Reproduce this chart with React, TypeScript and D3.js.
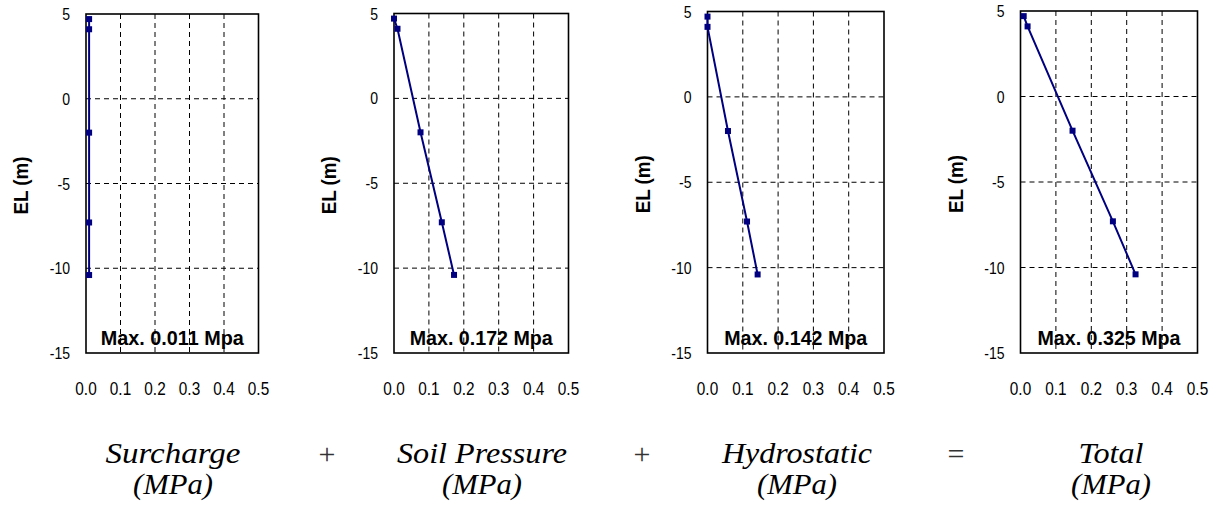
import React from "react";
import * as d3 from "d3";

const elevations = [4.7, 4.1, -2.0, -7.3, -10.4];
const surcharge = [0.009, 0.009, 0.009, 0.009, 0.009];
const soilPressure = [0, 0.01, 0.076, 0.137, 0.172];
const hydrostatic = [0, 0, 0.058, 0.112, 0.142];
const total = [0.009, 0.02, 0.147, 0.261, 0.325];

const seriesValues = [surcharge, soilPressure, hydrostatic, total];
const maxLabels = ["Max. 0.011 Mpa", "Max. 0.172 Mpa", "Max. 0.142 Mpa", "Max. 0.325 Mpa"];
const titles = ["Surcharge", "Soil Pressure", "Hydrostatic", "Total"];
const units = ["(MPa)", "(MPa)", "(MPa)", "(MPa)"];
const operators = ["+", "+", "="];
const xTicks = [0, 0.1, 0.2, 0.3, 0.4, 0.5];
const yTicks = [5, 0, -5, -10, -15];
const yTitle = "EL (m)";

// layout
const frames = [
  { left: 86, right: 258.5, top: 14, bottom: 353 },
  { left: 394, right: 568.5, top: 13.5, bottom: 353 },
  { left: 707.5, right: 884, top: 11.5, bottom: 353 },
  { left: 1020.5, right: 1197.5, top: 11, bottom: 353 },
];
const titleCenters = [173, 482, 797, 1111];
const titleWidths = [135, 170, 150, 65];
const unitWidth = 80;
const operatorX = [327, 642, 956];

const NAVY = "#000080";
const SANS = "'Liberation Sans', Arimo, Arial, Helvetica, sans-serif";
const SERIF = "'Times New Roman', Times, 'Liberation Serif', Tinos, 'Nimbus Roman', 'Noto Serif', serif";

function Panel({ i }: { i: number }) {
  const f = frames[i];
  const x = d3.scaleLinear().domain([0, 0.5]).range([f.left, f.right]);
  const y = d3.scaleLinear().domain([-15, 5]).range([f.bottom, f.top]);
  const vals = seriesValues[i];
  const pts = elevations.map((e, k) => [vals[k], e] as [number, number]);
  const line = d3
    .line<[number, number]>()
    .x((d) => x(d[0]))
    .y((d) => y(d[1]));
  const cx = (f.left + f.right) / 2;
  const cy = (f.top + f.bottom) / 2;
  return (
    <g>
      <text
        x={cx}
        y={f.bottom - 8}
        textAnchor="middle"
        fontFamily={SANS}
        fontWeight="bold"
        fontSize={21}
        textLength={143}
        lengthAdjust="spacingAndGlyphs"
        fill="#000"
      >
        {maxLabels[i]}
      </text>
      {xTicks.slice(1, -1).map((t) => (
        <line
          key={"vx" + t}
          x1={x(t)}
          x2={x(t)}
          y1={f.top}
          y2={f.bottom}
          stroke="#000"
          strokeWidth={1}
          strokeDasharray="5,4"
        />
      ))}
      {yTicks.slice(1, -1).map((t) => (
        <line
          key={"hy" + t}
          x1={f.left}
          x2={f.right}
          y1={y(t)}
          y2={y(t)}
          stroke="#000"
          strokeWidth={1}
          strokeDasharray="5,4"
        />
      ))}
      <rect
        x={f.left}
        y={f.top}
        width={f.right - f.left}
        height={f.bottom - f.top}
        fill="none"
        stroke="#000"
        strokeWidth={1.6}
      />
      <path d={line(pts) || ""} fill="none" stroke={NAVY} strokeWidth={2} />
      {pts.map((p, k) => (
        <rect
          key={k}
          x={x(p[0]) - 3}
          y={y(p[1]) - 3}
          width={6}
          height={6}
          fill={NAVY}
        />
      ))}
      {yTicks.map((t) => (
        <text
          key={"yl" + t}
          transform={`translate(${f.left - 16},${y(t) + 6}) scale(0.85,1)`}
          textAnchor="end"
          fontFamily={SANS}
          fontSize={16.5}
          fill="#000"
        >
          {String(t)}
        </text>
      ))}
      {xTicks.map((t) => (
        <text
          key={"xl" + t}
          transform={`translate(${x(t)},${395}) scale(0.83,1)`}
          textAnchor="middle"
          fontFamily={SANS}
          fontSize={18.5}
          fill="#000"
        >
          {d3.format(".1f")(t)}
        </text>
      ))}
      <text
        transform={`translate(${f.left - 58},${cy + 2}) rotate(-90)`}
        textAnchor="middle"
        fontFamily={SANS}
        fontWeight="bold"
        fontSize={20}
        textLength={58}
        lengthAdjust="spacingAndGlyphs"
        fill="#000"
      >
        {yTitle}
      </text>
    </g>
  );
}

export default function App() {
  return (
    <svg
      width={1221}
      height={513}
      style={{ position: "absolute", left: 0, top: 0, background: "#fff" }}
    >
      <rect x={0} y={0} width={1221} height={513} fill="#fff" />
      {frames.map((_, i) => (
        <Panel key={i} i={i} />
      ))}
      {titles.map((t, i) => (
        <g key={t}>
          <text
            x={titleCenters[i]}
            y={463}
            textAnchor="middle"
            fontFamily={SERIF}
            fontStyle="italic"
            fontSize={29}
            textLength={titleWidths[i]}
            lengthAdjust="spacingAndGlyphs"
            fill="#000"
          >
            {t}
          </text>
          <text
            x={titleCenters[i]}
            y={494}
            textAnchor="middle"
            fontFamily={SERIF}
            fontStyle="italic"
            fontSize={29}
            textLength={unitWidth}
            lengthAdjust="spacingAndGlyphs"
            fill="#000"
          >
            {units[i]}
          </text>
        </g>
      ))}
      {operators.map((o, i) => (
        <text
          key={i}
          x={operatorX[i]}
          y={464}
          textAnchor="middle"
          fontFamily={SERIF}
          fontSize={30}
          fill="#333"
        >
          {o}
        </text>
      ))}
    </svg>
  );
}
